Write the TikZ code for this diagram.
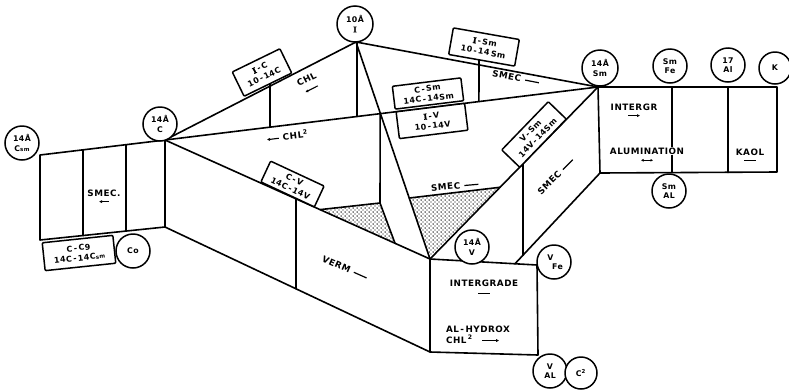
\documentclass[tikz,border=0pt]{standalone}
\usepackage{fontspec}
\setmainfont{DejaVu Sans}[LetterSpace=6]
\newfontfamily\serI{DejaVu Serif}[FakeBold=1.5]
\usetikzlibrary{patterns.meta,calc,arrows.meta}
\newcommand{\RI}{{\serI I}}
\newcommand{\myR}[1]{\tikz[baseline=-0.6ex]\draw[line width=1.1pt,-{Latex[length=3pt,width=3.2pt]}](0pt,0pt)--(#1,0pt);}
\newcommand{\myL}[1]{\tikz[baseline=-0.6ex]\draw[line width=1.1pt,{Latex[length=3pt,width=3.2pt]}-](0pt,0pt)--(#1,0pt);}
\newcommand{\myLR}[1]{\tikz[baseline=-0.6ex]\draw[line width=1.1pt,{Latex[length=2.5pt,width=3pt]}-{Latex[length=2.5pt,width=3pt]}](0pt,0pt)--(#1,0pt);}
\newcommand{\myD}[1]{\tikz[baseline=-0.6ex]\draw[line width=1.2pt](0pt,0pt)--(#1,0pt);}
\tikzdeclarepattern{
  name=stip,
  type=colored,
  bottom left={(-.1pt,-.1pt)},
  top right={(4.1pt,4.1pt)},
  tile size={(4pt,4pt)},
  code={\fill[black] (1pt,1pt) circle (0.75pt); \fill[black] (3pt,3pt) circle (0.6pt);}
}
\begin{document}
\begin{tikzpicture}[x=1pt,y=-1pt,
  ln/.style={line width=1.6pt,line join=round,line cap=round},
  cir/.style={circle,draw,line width=1.5pt,fill=white,minimum size=34pt,inner sep=0pt,align=center,font=\fontsize{7.8}{9.4}\selectfont\bfseries},
  tagbox/.style={draw,line width=1.5pt,fill=white,rounded corners=1pt,align=center,inner sep=1pt,font=\fontsize{8}{10}\selectfont\bfseries},
  lab/.style={font=\fontsize{8.8}{10.5}\selectfont\bfseries,align=center,inner sep=1pt},
  dotfill/.style={pattern=stip}]
\useasboundingbox (0,0) rectangle (789,389);
% hubs
\coordinate (C) at (165,140);
\coordinate (I) at (356,42);
\coordinate (S) at (598,87);
\coordinate (V) at (430,259);
% left block
\coordinate (Lt) at (40,155);
\coordinate (Lb) at (40,240);
\coordinate (Cb) at (165,227);
% intergrade box
\coordinate (Tr) at (537,265);
\coordinate (Br) at (538,355);
\coordinate (Bl) at (430,352);
% right box
\coordinate (Rt) at (777,87);
\coordinate (Rr) at (777,172);
\coordinate (Rb) at (600,173);
% auxiliary points
\coordinate (P1) at ($(I)!0.327!(V)$);
\coordinate (P2) at (380,203);
\coordinate (T1a) at ($(C)!0.585!(V)$);
\coordinate (T1c) at ($(C)!0.868!(V)$);
\coordinate (T2a) at ($(I)!0.719!(V)$);
\coordinate (T2b) at ($(S)!0.583!(V)$);
\coordinate (Q) at ($(V)!0.794!(Tr)$);
% stippled triangles
\fill[dotfill] (T1a) -- (P2) -- (T1c) -- cycle;
\fill[dotfill] (T2a) -- (T2b) -- (V) -- cycle;
% left block
\draw[ln] (Lt) -- (C) -- (Cb) -- (Lb) -- cycle;
\draw[ln] ($(Lt)!0.344!(C)$) -- ($(Lb)!0.344!(Cb)$);
\draw[ln] ($(Lt)!0.688!(C)$) -- ($(Lb)!0.688!(Cb)$);
% lower face
\draw[ln] (C) -- (V);
\draw[ln] (Cb) -- (Bl);
\draw[ln] ($(C)!0.494!(V)$) -- ($(Cb)!0.494!(Bl)$);
\draw[ln] (V) -- (Tr) -- (Br) -- (Bl) -- cycle;
% upper fan
\draw[ln] (C) -- (I);
\draw[ln] (C) -- (S);
\draw[ln] (I) -- (S);
\draw[ln] (I) -- (V);
\draw[ln] (S) -- (V);
\draw[ln] (357,43) -- ($(C)!0.4434!(S)$);
\draw[ln] (P1) -- (P2);
\draw[ln] (T1a) -- (P2) -- (T1c);
\draw[ln] (T2a) -- (T2b);
\draw[ln] (270,80) -- ($(C)!0.2425!(S)$);
\draw[ln] (479,55) -- ($(C)!0.725!(S)$);
% lower smec face
\draw[ln] (Rb) -- (Q);
\draw[ln] (523,160) -- ($(Rb)!0.906!(Q)$);
% right box
\draw[ln] (S) -- (Rt) -- (Rr) -- (Rb) -- cycle;
\draw[ln] (672,87) -- (672,172.5);
\draw[ln] (728,87) -- (728,172.5);
% boxes on lines
\node[tagbox,rotate=26,minimum width=53pt,minimum height=27pt] (bIC) at (262,72.5) {\RI\,-\,C\\10\,-\,14C};
\node[tagbox,rotate=-10,minimum width=67pt,minimum height=27pt] (bISm) at (484,47) {\RI\,-\,Sm\\10\,-\,14\,Sm};
\node[tagbox,rotate=7,minimum width=69pt,minimum height=23pt] (bCSm) at (428,93.5) {C\,-\,Sm\\14C\,-\,14Sm};
\node[tagbox,rotate=7,minimum width=69pt,minimum height=27pt] (bIV) at (432,121) {\RI\,-\,V\\10\,-\,14V};
\node[tagbox,rotate=46,minimum width=67pt,minimum height=25pt] (bVSm) at (534,134.5) {V\,-\,Sm\\14V\,-\,14Sm};
\node[tagbox,rotate=-25,minimum width=59pt,minimum height=23pt] (bCV) at (292.5,184) {C\,-\,V\\14C\,-\,14V};
\node[tagbox,rotate=6,minimum width=71pt,minimum height=28pt] (bCC) at (79,253) {C\,-\,C9\\14C\,-\,14C{\fontsize{5.5}{5.5}\selectfont sm}};
% labels
\node[lab,rotate=27] (lCHL) at (309,84) {CHL\\\myL{14pt}};
\node[lab,rotate=7] (lCHL2) at (287,136) {\myL{12pt}\ CHL\textsuperscript{2}};
\node[lab,rotate=-11] (lSM1) at (516,78) {SMEC\ \myD{14pt}};
\node[lab,rotate=5] (lSM2) at (455,186) {SMEC\ \myD{14pt}};
\node[lab,rotate=45] (lSM3) at (556,176) {SMEC\ \myD{14pt}};
\node[lab,rotate=-24] (lVERM) at (345,268) {VERM\ \myD{14pt}};
\node[lab] (lSM4) at (104,197) {SMEC.\\[-2pt]\myL{10pt}};
\node[lab] (lIG) at (484,288) {INTERGRADE\\[-1pt]\myD{12pt}};
\node[lab,align=left] (lAH) at (478,335) {AL\,-\,HYDROX\\CHL\,\textsuperscript{2}\quad\myR{17pt}};
\node[lab] (lIGR) at (634,111) {INTERGR\\[-2pt]\myR{12pt}};
\node[lab,fill=white,inner sep=0.5pt] (lAL) at (647,151) {ALUMINATION};
\node[lab] (lALa) at (647,161) {\myLR{12pt}};
\node[lab] (lKAO) at (750,156) {KAOL\\[-2pt]\myD{12pt}};
% circles
\node[cir] (c14Csm) at (22,143) {14Å\\C{\fontsize{5.5}{5.5}\selectfont sm}};
\node[cir] (c14C) at (160,124) {14Å\\C};
\node[cir,minimum size=36pt] (c10I) at (355,24) {10Å\\\RI};
\node[cir,minimum size=36pt] (c14Sm) at (600,68) {14Å\\Sm};
\node[cir] (cSmFe) at (670,66) {Sm\\Fe};
\node[cir] (c17Al) at (728,65) {17\\Al};
\node[cir,minimum size=32pt] (cK) at (775,68) {K};
\node[cir] (cSmAL) at (669,191) {Sm\\AL};
\node[cir] (c14V) at (472,247) {14Å\\V};
\node[cir] (cVFe) at (554,262) {V\kern7pt\\\kern7pt Fe};
\node[cir] (cVAL) at (550,371) {V\\AL};
\node[cir,minimum size=32pt] (cC2) at (581,373) {C\textsuperscript{2}};
\node[cir] (cCo) at (133,251) {Co};
\end{tikzpicture}
\end{document}
